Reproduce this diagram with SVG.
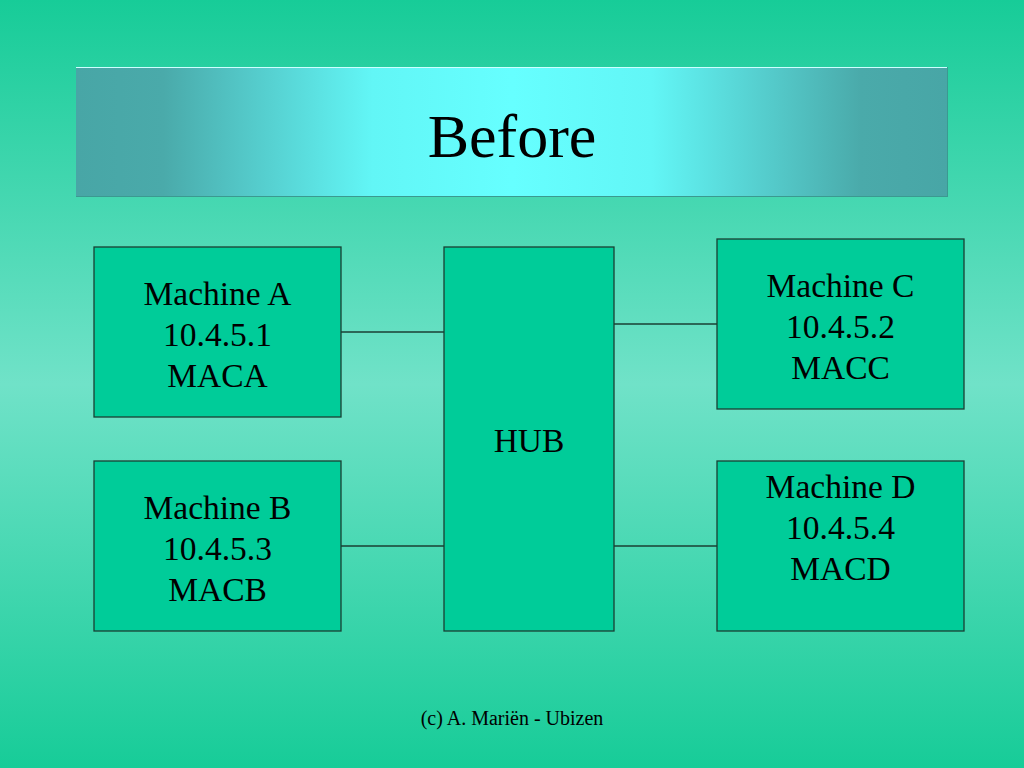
<svg xmlns="http://www.w3.org/2000/svg" width="1024" height="768" viewBox="0 0 1024 768">
<defs>
<linearGradient id="bg" x1="0" y1="0" x2="0" y2="1">
<stop offset="0" stop-color="#17cc98"/>
<stop offset="0.5" stop-color="#70e2c8"/>
<stop offset="1" stop-color="#17cc98"/>
</linearGradient>
<linearGradient id="tb" x1="0" y1="0" x2="1" y2="0">
<stop offset="0" stop-color="#48a6a6"/>
<stop offset="0.1" stop-color="#4aaaaa"/>
<stop offset="0.34" stop-color="#62f6f6"/>
<stop offset="0.5" stop-color="#66ffff"/>
<stop offset="0.66" stop-color="#62f6f6"/>
<stop offset="0.9" stop-color="#4aaaaa"/>
<stop offset="1" stop-color="#48a6a6"/>
</linearGradient>
<style>
.box{fill:#00cc99;stroke:#1a3f33;stroke-width:1.3}
.t{font-family:"Liberation Serif","Times New Roman",serif;font-size:33.5px;fill:#000;text-anchor:middle}
.ln{stroke:#1a3f33;stroke-width:1.3;fill:none}
</style>
</defs>
<rect width="1024" height="768" fill="url(#bg)"/>
<g id="title">
<rect x="76" y="67" width="872" height="130" fill="url(#tb)"/>
<line x1="76" y1="67.5" x2="948" y2="67.5" stroke="#cfffff" stroke-width="1"/>
<line x1="76" y1="196.5" x2="948" y2="196.5" stroke="#3a9a90" stroke-width="1"/>
<line x1="947.5" y1="67" x2="947.5" y2="197" stroke="#3a9a90" stroke-width="1"/>
<text x="512" y="157" font-family="'Liberation Serif','Times New Roman',serif" font-size="62" text-anchor="middle" fill="#000">Before</text>
</g>
<g id="connectors">
<line class="ln" x1="341" y1="332" x2="444" y2="332"/>
<line class="ln" x1="341" y1="546" x2="444" y2="546"/>
<line class="ln" x1="614" y1="324" x2="717" y2="324"/>
<line class="ln" x1="614" y1="546" x2="717" y2="546"/>
</g>
<g id="machineA">
<rect class="box" x="94" y="247" width="247" height="170"/>
<text class="t" x="217.5" y="305">Machine A</text>
<text class="t" x="217.5" y="346">10.4.5.1</text>
<text class="t" x="217.5" y="387">MACA</text>
</g>
<g id="machineB">
<rect class="box" x="94" y="461" width="247" height="170"/>
<text class="t" x="217.5" y="519">Machine B</text>
<text class="t" x="217.5" y="560">10.4.5.3</text>
<text class="t" x="217.5" y="601">MACB</text>
</g>
<g id="hub">
<rect class="box" x="444" y="247" width="170" height="384"/>
<text class="t" x="529" y="452">HUB</text>
</g>
<g id="machineC">
<rect class="box" x="717" y="239" width="247" height="170"/>
<text class="t" x="840.5" y="297">Machine C</text>
<text class="t" x="840.5" y="338">10.4.5.2</text>
<text class="t" x="840.5" y="379">MACC</text>
</g>
<g id="machineD">
<rect class="box" x="717" y="461" width="247" height="170"/>
<text class="t" x="840.5" y="498">Machine D</text>
<text class="t" x="840.5" y="539">10.4.5.4</text>
<text class="t" x="840.5" y="580">MACD</text>
</g>
<text x="512" y="725" font-family="'Liberation Serif','Times New Roman',serif" font-size="20" text-anchor="middle" fill="#000">(c) A. Mariën - Ubizen</text>
</svg>
